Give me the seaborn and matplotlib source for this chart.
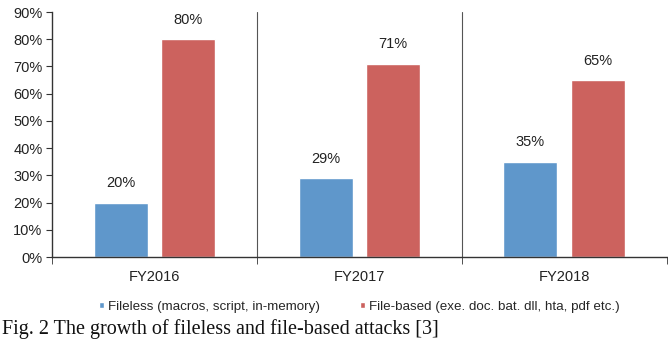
import numpy as np
import pandas as pd
import matplotlib.pyplot as plt
import seaborn as sns

years = ["FY2016", "FY2017", "FY2018"]
fileless = [20, 29, 35]
file_based = [80, 71, 65]
series_names = ["Fileless (macros, script, in-memory)",
                "File-based (exe. doc. bat. dll, hta, pdf etc.)"]

df = pd.DataFrame({
    "year": years * 2,
    "value": fileless + file_based,
    "type": [series_names[0]] * 3 + [series_names[1]] * 3,
})

sns.set_style("white")
plt.rcParams["font.family"] = ["Liberation Sans", "DejaVu Sans"]

fig = plt.figure(figsize=(6.68, 3.54), dpi=100)
ax = fig.add_axes([0.078, 0.274, 0.92, 0.692])

sns.barplot(data=df, x="year", y="value", hue="type",
            palette=["#5f97cb", "#cc625e"], saturation=1, width=0.66, gap=0.2,
            ax=ax, legend=True)

for cont in ax.containers:
    ax.bar_label(cont, labels=[f"{v:.0f}%" for v in cont.datavalues],
                 padding=9, fontsize=10.5, color="#222222")

ax.set_ylim(0, 90)
ax.set_xlim(-0.5, 2.5)
ax.set_yticks(np.arange(0, 91, 10))
ax.set_yticklabels([f"{t}%" for t in range(0, 91, 10)], fontsize=10.5, color="#222222")
ax.tick_params(axis="y", length=4, direction="out", left=True, color="#333333", pad=3)
ax.tick_params(axis="x", which="major", length=0, labelsize=10.5, labelcolor="#222222", pad=9)
ax.set_xticks([-0.5, 0.5, 1.5, 2.5], minor=True)
ax.tick_params(axis="x", which="minor", length=5, bottom=True, color="#333333")
for xb in [0.5, 1.5]:
    ax.axvline(xb, color="#555555", lw=0.8)
ax.set_xlabel("")
ax.set_ylabel("")

for s in ["top", "right"]:
    ax.spines[s].set_visible(False)
for s in ["left", "bottom"]:
    ax.spines[s].set_color("#333333")
    ax.spines[s].set_linewidth(1.0)

ax.legend(loc="upper center", bbox_to_anchor=(0.5, -0.13), ncol=2, frameon=False,
          fontsize=9.6, handlelength=0.4, handleheight=0.4, handletextpad=0.3,
          columnspacing=3)

fig.text(0.003, 0.07, "Fig. 2 The growth of fileless and file-based attacks [3]",
         family="Liberation Serif", fontsize=14.5, va="center", color="#111111")

fig.savefig("out.png", dpi=100)
